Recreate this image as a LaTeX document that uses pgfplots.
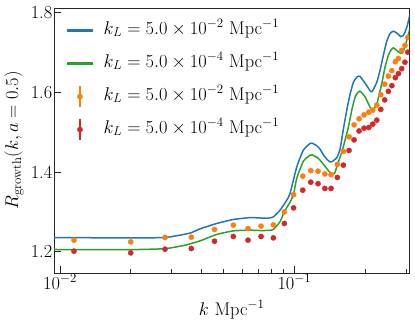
\RequirePackage{fix-cm}
\documentclass[border=0pt]{standalone}
\usepackage{pgfplots}
\pgfplotsset{compat=1.18}
\definecolor{tabblue}{HTML}{1F77B4}
\definecolor{tabgreen}{HTML}{2CA02C}
\definecolor{taborange}{HTML}{FF7F0E}
\definecolor{tabred}{HTML}{D62728}

\pgfplotstableread{
k R
0.009428 1.2356
0.014818 1.2354
0.019897 1.2349
0.028063 1.2361
0.034168 1.2444
0.036339 1.2482
0.039588 1.2577
0.046637 1.2713
0.054912 1.2813
0.064686 1.2860
0.072000 1.2850
0.078000 1.2850
0.081367 1.2878
0.086893 1.3046
0.092798 1.3297
0.095861 1.3465
0.102387 1.4133
0.109241 1.4552
0.116680 1.4720
0.119000 1.4728
0.124618 1.4665
0.128721 1.4577
0.132962 1.4439
0.137477 1.4326
0.142010 1.4256
0.144830 1.4263
0.151693 1.4364
0.156690 1.4577
0.161853 1.5079
0.167360 1.5556
0.172872 1.5957
0.178590 1.6258
0.184645 1.6384
0.187930 1.6409
0.190725 1.6403
0.200333 1.6233
0.210420 1.6045
0.214600 1.6020
0.224738 1.6258
0.232152 1.6560
0.239800 1.6936
0.247930 1.7287
0.256122 1.7481
0.264570 1.7538
0.275170 1.7481
0.284520 1.7400
0.291030 1.7425
0.296800 1.7520
0.302700 1.7664
0.308700 1.7857
0.311720 1.7965
}\blue

\pgfplotstableread{
k R
0.009428 1.2060
0.014818 1.2055
0.019897 1.2055
0.028063 1.2080
0.034168 1.2168
0.039588 1.2276
0.046637 1.2437
0.054912 1.2527
0.064686 1.2545
0.072000 1.2535
0.078000 1.2540
0.081367 1.2562
0.086893 1.2758
0.090642 1.3009
0.095861 1.3247
0.099218 1.3448
0.102387 1.3849
0.109241 1.4276
0.116680 1.4427
0.119000 1.4432
0.124618 1.4376
0.128721 1.4301
0.137477 1.4093
0.142010 1.3987
0.148040 1.3962
0.151693 1.4133
0.156690 1.4376
0.159330 1.4502
0.164580 1.4803
0.169990 1.5129
0.175810 1.5556
0.181580 1.5882
0.187010 1.6008
0.190725 1.6033
0.200333 1.5890
0.210420 1.5631
0.216720 1.5556
0.224738 1.5706
0.230550 1.5975
0.236060 1.6226
0.243840 1.6642
0.251880 1.6936
0.258130 1.7061
0.264570 1.7119
0.277890 1.7019
0.287330 1.6979
0.293910 1.7087
0.301800 1.7312
0.308700 1.7521
0.311720 1.7639
}\green

\pgfplotstableread{
k R
0.011474 1.2294
0.020033 1.2251
0.028063 1.2361
0.036339 1.2369
0.045649 1.2562
0.054912 1.2670
0.063440 1.2587
0.072103 1.2645
0.081353 1.2678
0.090642 1.3004
0.099218 1.3435
0.10860 1.3900
0.11749 1.4038
0.12622 1.4025
0.13496 1.3955
0.14341 1.3937
0.15259 1.4196
0.16186 1.4522
0.17119 1.4886
0.17982 1.5187
0.18888 1.5338
0.19838 1.5438
0.20775 1.5506
0.21608 1.5556
0.22475 1.5686
0.23377 1.5945
0.2429 1.6208
0.2517 1.6409
0.2606 1.6547
0.2697 1.6773
0.2780 1.6853
0.2870 1.7056
0.2964 1.7182
0.3048 1.7383
0.3133 1.7563
}\orange

\pgfplotstableread{
k R
0.011474 1.2018
0.020033 1.1975
0.028063 1.2068
0.036339 1.2085
0.045649 1.2268
0.054912 1.2386
0.063440 1.2294
0.072103 1.2386
0.081353 1.2351
0.090642 1.2713
0.099218 1.3104
0.10860 1.3548
0.11749 1.3749
0.12622 1.3711
0.13496 1.3591
0.14341 1.3591
0.15259 1.3867
0.16186 1.4176
0.17119 1.4545
0.17982 1.4811
0.18888 1.5034
0.19838 1.5104
0.20775 1.5122
0.21608 1.5205
0.22475 1.5305
0.23377 1.5576
0.2429 1.5814
0.2517 1.6028
0.2606 1.6171
0.2697 1.6371
0.2780 1.6472
0.2870 1.6597
0.2964 1.6760
0.3048 1.7011
0.3133 1.7240
}\red

\begin{document}
\begin{tikzpicture}[font=\fontsize{18.4}{22}\selectfont]
\useasboundingbox (-54pt,-53pt) rectangle (361pt,273pt);
\begin{axis}[
  at={(0pt,0pt)}, anchor=south west,
  scale only axis, width=355.3pt, height=265pt,
  xmode=log, xmin=0.009428, xmax=0.3093, ymin=1.147, ymax=1.812,
  axis line style={black!85, line width=0.9pt},
  tick align=inside, xtick pos=left, ytick pos=left,
  major tick length=7pt, minor tick length=4pt,
  every major tick/.append style={black!85, line width=0.9pt},
  every minor tick/.append style={black!85, line width=0.7pt},
  ytick={1.2,1.4,1.6,1.8}, yticklabels={1.2,1.4,1.6,1.8},
  minor ytick={},
  xtick={0.01,0.1}, xticklabels={$10^{-2}$,$10^{-1}$},
  minor xtick={0.02,0.03,0.04,0.05,0.06,0.07,0.08,0.09,0.2,0.3},
  yticklabel style={inner sep=0pt, xshift=-1.5pt},
  xticklabel style={inner sep=0pt, yshift=-1pt},
  xlabel={$k$ Mpc$^{-1}$},
  ylabel={$R_{\mathrm{growth}}(k, a=0.5)$},
  xlabel style={at={(axis description cs:0.5,-0.138)}, anchor=center},
  ylabel style={at={(axis description cs:-0.1126,0.5)}, anchor=center},
  clip marker paths=true,
  legend cell align=left,
  legend style={at={(axis description cs:0.0366,0.955)}, anchor=north west,
    draw=none, fill=none, inner sep=0pt, row sep=12pt,
    /tikz/every odd column/.append style={column sep=9pt},
    nodes={inner sep=2pt, text height=12pt, text depth=5pt}},
]
\addplot[color=tabblue, line width=1.5pt, smooth, tension=0.3,
  legend image code/.code={\fill[tabblue] (0pt,-0.55pt) rectangle (24pt,0.55pt);}]
  table[x=k, y=R] {\blue};
\addlegendentry{$k_L = 5.0\times10^{-2}$ Mpc$^{-1}$}
\addplot[color=tabgreen, line width=1.5pt, smooth, tension=0.3,
  legend image code/.code={\fill[tabgreen] (0pt,-0.55pt) rectangle (24pt,0.55pt);}]
  table[x=k, y=R] {\green};
\addlegendentry{$k_L = 5.0\times10^{-4}$ Mpc$^{-1}$}
\addplot[color=taborange, only marks, mark=*, mark size=2.6pt, mark options={draw=none, fill=taborange},
  legend image code/.code={\fill[taborange] (11.5pt,-10pt) rectangle (12.5pt,10pt); \fill[taborange] (12pt,0pt) circle (2.6pt);}]
  table[x=k, y=R] {\orange};
\addlegendentry{$k_L = 5.0\times10^{-2}$ Mpc$^{-1}$}
\addplot[color=tabred, only marks, mark=*, mark size=2.6pt, mark options={draw=none, fill=tabred},
  legend image code/.code={\fill[tabred] (11.5pt,-10pt) rectangle (12.5pt,10pt); \fill[tabred] (12pt,0pt) circle (2.6pt);}]
  table[x=k, y=R] {\red};
\addlegendentry{$k_L = 5.0\times10^{-4}$ Mpc$^{-1}$}
\end{axis}
\end{tikzpicture}
\end{document}
